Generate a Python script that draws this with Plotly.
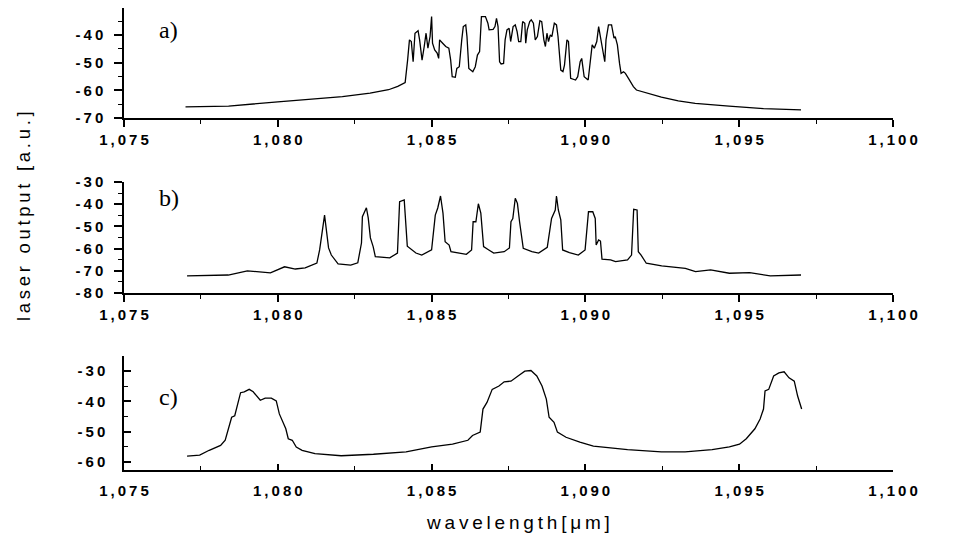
import plotly.graph_objects as go

# ---------------- data ----------------
a_x = [1.0770, 1.0784, 1.0800, 1.0821, 1.0830, 1.0836, 1.0839,
       1.08414, 1.08422, 1.08428, 1.08434, 1.08440, 1.08446, 1.08456, 1.08461, 1.08469, 1.08476,
       1.08482, 1.08488, 1.08495, 1.08500, 1.08503, 1.08510, 1.08518, 1.08523, 1.08526, 1.08536,
       1.08546, 1.08556, 1.08562, 1.08567, 1.08577, 1.08582, 1.08590, 1.08598, 1.08603, 1.08611,
       1.08615, 1.08621, 1.08634, 1.08642, 1.08649, 1.08656, 1.08662, 1.08675, 1.08683, 1.08687,
       1.08700, 1.08706, 1.08711, 1.08716, 1.08721, 1.08726, 1.08734, 1.08739, 1.08745, 1.08752,
       1.08757, 1.08765, 1.08772, 1.08778, 1.08783, 1.08790, 1.08796, 1.08803, 1.08806, 1.08811,
       1.08819, 1.08824, 1.08831, 1.08837, 1.08844, 1.08852, 1.08858, 1.08865, 1.08870, 1.08875,
       1.08880, 1.08886, 1.08891, 1.08899, 1.08906, 1.08911, 1.08920, 1.08927, 1.08932, 1.08940,
       1.08945, 1.08952, 1.08968, 1.08975, 1.08983, 1.08988, 1.08996, 1.09009, 1.09014, 1.09022,
       1.09029, 1.09037, 1.09043, 1.09050, 1.09063, 1.09067, 1.09075, 1.09085, 1.09093, 1.09097,
       1.09104, 1.09111, 1.09116, 1.09124, 1.09130, 1.09140, 1.09148, 1.09156,
       1.09166, 1.09204, 1.09247, 1.09302, 1.09357, 1.09467, 1.09579, 1.09701]
a_y = [-66.0, -65.7, -64.2, -62.3, -61.0, -59.8, -58.6,
       -57.2, -49.1, -41.8, -42.4, -49.7, -39.4, -38.5, -41.8, -49.1, -44.2,
       -39.4, -44.8, -40.6, -33.4, -43.0, -45.4, -46.6, -48.5, -41.8, -43.0,
       -44.2, -44.8, -49.1, -55.1, -55.3, -52.1, -51.5, -41.8, -37.0, -36.4,
       -40.6, -52.1, -53.3, -51.5, -47.3, -46.0, -33.4, -33.4, -35.8, -38.2,
       -38.0, -37.0, -34.0, -37.0, -49.7, -50.5, -50.3, -41.8, -38.2, -37.6,
       -42.4, -37.0, -36.4, -38.8, -42.4, -42.4, -35.2, -35.8, -43.0, -38.2,
       -35.2, -34.6, -35.8, -41.8, -40.6, -34.9, -35.2, -41.8, -44.2, -39.4,
       -42.4, -40.0, -40.6, -35.8, -36.4, -40.6, -52.7, -53.3, -50.9, -41.8,
       -42.4, -55.7, -56.3, -55.1, -49.7, -48.5, -55.1, -56.3, -51.5, -43.6,
       -44.8, -42.4, -37.0, -41.8, -49.7, -41.8, -36.4, -36.4, -41.2, -40.6,
       -43.6, -50.3, -53.9, -53.3, -53.9, -55.7, -57.5, -58.7,
       -59.9, -61.1, -62.5, -63.8, -64.7, -65.7, -66.6, -67.1]

b_x = [1.07705, 1.07839, 1.07901, 1.07976, 1.08022, 1.08057, 1.08089, 1.08127, 1.08136, 1.08149,
       1.08152, 1.08165, 1.08174, 1.08196, 1.08237, 1.08260, 1.08272, 1.08275, 1.08288, 1.08294,
       1.08301, 1.08310, 1.08317, 1.08364, 1.08389, 1.08396, 1.08411, 1.08421, 1.08449, 1.08468,
       1.08500, 1.08512, 1.08520, 1.08529, 1.08537, 1.08544, 1.08557, 1.08563, 1.08591, 1.08613,
       1.08630, 1.08635, 1.08644, 1.08652, 1.08660, 1.08669, 1.08686, 1.08702, 1.08736, 1.08753,
       1.08758, 1.08764, 1.08772, 1.08779, 1.08786, 1.08798, 1.08826, 1.08848, 1.08876, 1.08890,
       1.08902, 1.08906, 1.08912, 1.08920, 1.08926, 1.08948, 1.08977, 1.08999, 1.09010, 1.09024,
       1.09032, 1.09035, 1.09043, 1.09049, 1.09054, 1.09082, 1.09098, 1.09137, 1.09150, 1.09157,
       1.09168, 1.09172, 1.09181, 1.09198, 1.09248, 1.09281, 1.09325, 1.09358, 1.09407, 1.09468,
       1.09534, 1.09601, 1.09701]
b_y = [-72.3, -71.9, -70.0, -70.9, -68.2, -69.2, -68.7, -66.5, -60.6, -46.2,
       -44.9, -59.7, -62.9, -66.9, -67.4, -66.4, -57.5, -45.6, -41.6, -46.2,
       -55.2, -59.1, -63.6, -64.2, -62.0, -38.9, -38.1, -58.9, -62.0, -62.9,
       -60.6, -44.9, -41.7, -36.3, -44.0, -56.9, -58.4, -61.4, -62.1, -62.6,
       -60.6, -47.9, -47.9, -39.8, -44.0, -59.1, -60.6, -62.0, -61.4, -59.7,
       -47.9, -46.5, -37.3, -39.6, -47.9, -59.9, -61.4, -62.0, -59.4, -46.4,
       -42.6, -36.3, -42.6, -47.1, -60.6, -61.8, -62.9, -60.6, -43.4, -43.4,
       -46.4, -58.4, -56.1, -56.6, -64.8, -65.1, -65.9, -65.1, -62.9, -42.3,
       -42.6, -61.4, -62.9, -66.6, -67.8, -68.2, -68.9, -70.4, -69.6, -71.1,
       -70.8, -72.3, -71.9]

c_x = [1.07705, 1.07746, 1.07777, 1.07814, 1.07829, 1.07850, 1.07860, 1.07879, 1.07891, 1.07907,
       1.07920, 1.07943, 1.07959, 1.07979, 1.07995, 1.08005, 1.08026, 1.08034, 1.08047, 1.08060,
       1.08079, 1.08121, 1.08206, 1.08311, 1.08417, 1.08500, 1.08568, 1.08591, 1.08618, 1.08633,
       1.08658, 1.08667, 1.08680, 1.08697, 1.08719, 1.08736, 1.08758, 1.08781, 1.08803, 1.08823,
       1.08842, 1.08859, 1.08873, 1.08882, 1.08898, 1.08909, 1.08937, 1.08982, 1.09026, 1.09137,
       1.09247, 1.09324, 1.09412, 1.09468, 1.09501, 1.09523, 1.09551, 1.09568, 1.09579, 1.09584,
       1.09596, 1.09612, 1.09629, 1.09646, 1.09662, 1.09679, 1.09690, 1.09703]
c_y = [-58.0, -57.7, -56.1, -54.5, -52.8, -45.2, -44.7, -37.1, -36.8, -36.0,
       -36.8, -39.6, -38.9, -38.9, -39.8, -44.1, -49.0, -52.3, -52.8, -55.0,
       -56.1, -57.2, -57.9, -57.4, -56.6, -55.0, -54.1, -53.4, -52.8, -51.2,
       -50.1, -42.5, -40.3, -36.0, -34.9, -33.5, -33.3, -31.6, -30.0, -29.8,
       -31.6, -34.9, -39.2, -45.2, -46.9, -50.1, -51.8, -53.4, -54.7, -55.9,
       -56.6, -56.6, -55.9, -55.0, -54.1, -52.3, -49.0, -45.8, -42.5, -36.5,
       -36.0, -31.6, -30.6, -30.2, -32.2, -33.3, -38.2, -42.5]

x_tick_vals = [1.075, 1.080, 1.085, 1.090, 1.095, 1.100]
x_tick_text = ["1,075", "1,080", "1,085", "1,090", "1,095", "1,100"]
a_tick_vals = [-70, -60, -50, -40]
b_tick_vals = [-80, -70, -60, -50, -40, -30]
c_tick_vals = [-60, -50, -40, -30]
panel_labels = ["a)", "b)", "c)"]
y_title = "laser output [a.u.]"
x_title = "wavelength[\u03bcm]"

# ---------------- figure ----------------
SP = "\u2009"


def spaced(s):
    return SP.join(list(s))


# page body has an 8px margin: lay out in figure pixels = screen pixels - 8
OFF = 8
W, H = 966 - OFF, 539 - OFF


def fx(px):
    return (px - OFF) / W


def fy(py):
    return 1 - (py - OFF) / H


X0, X1 = fx(124), fx(893)
tick_font = dict(family="Liberation Sans, Arial, sans-serif", size=15, color="black", weight="bold")

fig = go.Figure()
for i, (xs, ys) in enumerate([(a_x, a_y), (b_x, b_y), (c_x, c_y)]):
    fig.add_trace(go.Scatter(x=xs, y=ys, mode="lines",
                             line=dict(color="black", width=1.3),
                             xaxis="x" if i == 0 else f"x{i+1}",
                             yaxis="y" if i == 0 else f"y{i+1}",
                             showlegend=False))

panels = [
    # (y-range, ytickvals, minor y ticks, top px, bottom px, ticks dir)
    ([-70, -30.3], a_tick_vals, [-65, -55, -45, -35], 8, 118, "outside"),
    ([-80, -30], b_tick_vals, [-75, -65, -55, -45, -35], 182, 293, "outside"),
    ([-62.6, -25], c_tick_vals, [-55, -45, -35, -25], 356, 470, "inside"),
]

layout = dict(width=W, height=H, margin=dict(l=0, r=0, t=0, b=0, autoexpand=False),
              template="none",
              paper_bgcolor="white", plot_bgcolor="white", showlegend=False)

for i, (yr, ytv, ymin, top, bot, tdir) in enumerate(panels):
    sx = "" if i == 0 else str(i + 1)
    xname, yname = "xaxis" + sx, "yaxis" + sx
    xa_ref, ya_ref = "x" + sx, "y" + sx
    inside = tdir == "inside"
    layout[xname] = dict(
        domain=[X0, X1], range=[1.075, 1.100], anchor=ya_ref, automargin=False,
        showline=True, linecolor="black", linewidth=2, mirror=False,
        showgrid=False, zeroline=False,
        ticks=tdir, ticklen=7 if not inside else 6, tickwidth=1.5, tickcolor="black",
        tickmode="array", tickvals=x_tick_vals,
        ticktext=[spaced(t) for t in x_tick_text],
        tickfont=tick_font, ticklabelstandoff=0 if not inside else 6,
        minor=dict(ticks=tdir, ticklen=4, tickwidth=1.2, tickcolor="black",
                   tickmode="array", tickvals=[1.0775, 1.0825, 1.0875, 1.0925, 1.0975],
                   showgrid=False),
    )
    layout[yname] = dict(
        domain=[fy(bot), min(1.0, fy(top))], range=yr, anchor=xa_ref, automargin=False,
        showline=True, linecolor="black", linewidth=1.5,
        showgrid=False, zeroline=False,
        ticks=tdir, ticklen=8 if not inside else 7, tickwidth=1.5, tickcolor="black",
        tickmode="array", tickvals=ytv,
        ticktext=[spaced(str(v)) for v in ytv],
        tickfont=tick_font, ticklabelstandoff=8 if not inside else 14,
        minor=dict(ticks=tdir, ticklen=4, tickwidth=1.2, tickcolor="black",
                   tickmode="array", tickvals=ymin, showgrid=False),
    )

fig.update_layout(**layout)

label_pos = [(168, 30), (169, 198), (168, 397)]
for lab, (px, py) in zip(panel_labels, label_pos):
    fig.add_annotation(x=fx(px), y=fy(py), xref="paper", yref="paper",
                       xanchor="center", yanchor="middle",
                       text=lab, showarrow=False,
                       font=dict(family="Liberation Serif, Times New Roman, serif", size=24, color="black"))

fig.add_annotation(x=fx(23), y=fy(216), xref="paper", yref="paper",
                   xanchor="center", yanchor="middle",
                   text=spaced(y_title), textangle=-90, showarrow=False,
                   font=dict(family="Liberation Sans, Arial, sans-serif", size=18.5, color="black"))
fig.add_annotation(x=fx(518), y=fy(522), xref="paper", yref="paper",
                   xanchor="center", yanchor="middle",
                   text=spaced(x_title), showarrow=False,
                   font=dict(family="Liberation Sans, Arial, sans-serif", size=19, color="black"))

fig.write_html("out.html")
